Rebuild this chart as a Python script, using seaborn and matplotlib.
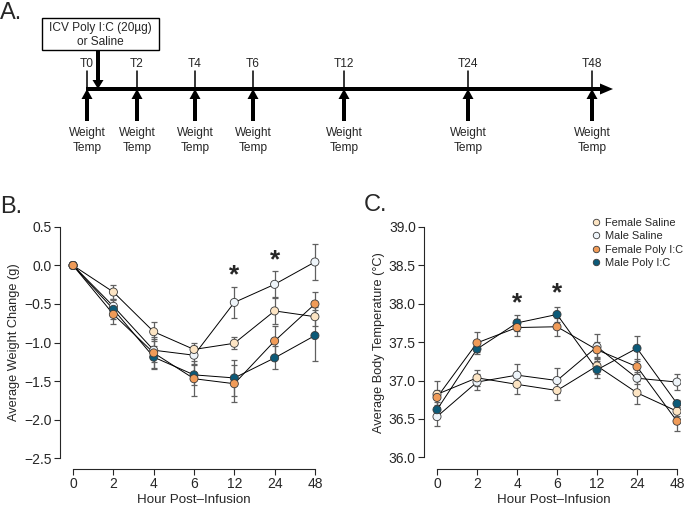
import matplotlib
matplotlib.use("Agg")
import pandas as pd
import matplotlib.pyplot as plt
import seaborn as sns
from matplotlib.patches import FancyArrow, Rectangle

# ---- data ----
hours = ["0", "2", "4", "6", "12", "24", "48"]
groups = ["Female Saline", "Male Saline", "Female Poly I:C", "Male Poly I:C"]
draw_order = ["Male Saline", "Female Saline", "Male Poly I:C", "Female Poly I:C"]
colors = ["#FCE4C3", "#EEF4F9", "#F09B58", "#0C5A78"]

weight_mean = {
    "Female Saline": [0, -0.345, -0.86, -1.09, -1.01, -0.59, -0.665],
    "Male Saline": [0, -0.53, -1.10, -1.165, -0.48, -0.245, 0.045],
    "Female Poly I:C": [0, -0.635, -1.135, -1.47, -1.535, -0.98, -0.50],
    "Male Poly I:C": [0, -0.57, -1.19, -1.42, -1.46, -1.20, -0.91],
}
weight_sem = {
    "Female Saline": [0, 0.09, 0.12, 0.09, 0.08, 0.17, 0.12],
    "Male Saline": [0, 0.10, 0.15, 0.12, 0.20, 0.17, 0.23],
    "Female Poly I:C": [0, 0.13, 0.20, 0.23, 0.24, 0.20, 0.15],
    "Male Poly I:C": [0, 0.12, 0.15, 0.13, 0.23, 0.15, 0.33],
}
temp_mean = {
    "Female Saline": [36.82, 37.035, 36.95, 36.87, 37.19, 36.84, 36.60],
    "Male Saline": [36.53, 36.98, 37.07, 37.00, 37.44, 37.03, 36.98],
    "Female Poly I:C": [36.78, 37.49, 37.69, 37.70, 37.40, 37.18, 36.47],
    "Male Poly I:C": [36.62, 37.41, 37.75, 37.86, 37.14, 37.42, 36.70],
}
temp_sem = {
    "Female Saline": [0.18, 0.10, 0.12, 0.13, 0.10, 0.15, 0.06],
    "Male Saline": [0.12, 0.10, 0.14, 0.16, 0.16, 0.08, 0.10],
    "Female Poly I:C": [0.10, 0.14, 0.11, 0.12, 0.10, 0.10, 0.13],
    "Male Poly I:C": [0.10, 0.04, 0.10, 0.10, 0.11, 0.16, 0.05],
}
weight_stars = [(4, -0.02), (5, 0.175)]
temp_stars = [(2, 38.11), (3, 38.24)]

timeline_labels = ["T0", "T2", "T4", "T6", "T12", "T24", "T48"]
timeline_x = [87, 137, 195, 253, 344, 468, 592]  # diagram layout (px)

# ---- style ----
sns.set_style("ticks")
plt.rcParams["font.family"] = ["Liberation Sans", "DejaVu Sans"]
plt.rcParams["axes.linewidth"] = 0.8
plt.rcParams["xtick.major.width"] = 0.8
plt.rcParams["ytick.major.width"] = 0.8
plt.rcParams["xtick.major.size"] = 4
plt.rcParams["ytick.major.size"] = 4

W, H = 685, 508
fig = plt.figure(figsize=(W / 100, H / 100), dpi=100)


def px_axes(left, top, right, bottom):
    return fig.add_axes([left / W, 1 - bottom / H, (right - left) / W, (bottom - top) / H])


def long_df(means, sems):
    rows = []
    for g in draw_order:
        for i, h in enumerate(hours):
            rows.append({"group": g, "pos": i, "hour": h, "value": means[g][i], "sem": sems[g][i]})
    return pd.DataFrame(rows)


def draw_panel(ax, df, ylabel, ylim, ybounds, yticks, stars, legend):
    sns.lineplot(data=df, x="pos", y="value", units="group", estimator=None,
                 color="black", linewidth=0.7, ax=ax, zorder=2)
    for g in draw_order:
        d = df[df["group"] == g]
        ax.errorbar(d["pos"], d["value"], yerr=d["sem"], fmt="none", ecolor="#606060",
                    elinewidth=0.9, capsize=2.2, capthick=0.9, zorder=1)
    sns.scatterplot(data=df, x="pos", y="value", hue="group", hue_order=groups,
                    palette=colors, s=34, edgecolor="#3a3a3a", linewidth=0.6,
                    ax=ax, zorder=4, legend=legend)
    for x, y in stars:
        ax.annotate("*", xy=(x, y), xytext=(0, -11), textcoords="offset points",
                    ha="center", va="baseline", fontsize=19, fontweight="bold")
    ax.set_ylim(*ylim)
    ax.set_yticks(yticks)
    ax.set_yticklabels([f"{t:.1f}".replace("-", "\u2212") for t in yticks], fontsize=9.5)
    ax.set_xticks(range(len(hours)))
    ax.set_xticklabels(hours, fontsize=9.5)
    ax.set_xlabel("Hour Post\u2013Infusion", fontsize=9.6, labelpad=1.5)
    ax.set_ylabel(ylabel, fontsize=9.2, labelpad=3)
    ax.tick_params(pad=2)
    ax.spines["top"].set_visible(False)
    ax.spines["right"].set_visible(False)
    ax.spines["left"].set_position(("outward", 2))
    ax.spines["bottom"].set_position(("outward", 3))
    ax.spines["left"].set_bounds(*ybounds)
    ax.spines["bottom"].set_bounds(0, len(hours) - 1)


# ---- panel A: timeline ----
ax_a = px_axes(0, 0, W, 170)
ax_a.set_xlim(0, W)
ax_a.set_ylim(170, 0)
ax_a.axis("off")
ax_a.add_patch(FancyArrow(86, 89, 527, 0, width=4, head_width=11, head_length=13,
                          length_includes_head=True, color="black", lw=0))
for x, lab in zip(timeline_x, timeline_labels):
    ax_a.plot([x, x], [71, 89], color="black", lw=1.1)
    ax_a.text(x, 64, lab, ha="center", va="center", fontsize=8.6)
    ax_a.add_patch(FancyArrow(x, 121, 0, -32, width=4, head_width=11, head_length=10,
                              length_includes_head=True, color="black", lw=0))
    ax_a.text(x, 133, "Weight", ha="center", va="center", fontsize=8.6)
    ax_a.text(x, 148, "Temp", ha="center", va="center", fontsize=8.6)
ax_a.add_patch(Rectangle((42, 18), 117, 32, facecolor="white", edgecolor="black", lw=1))
ax_a.text(100.5, 28, "ICV Poly I:C (20\u00b5g)", ha="center", va="center", fontsize=8.6)
ax_a.text(100.5, 42, "or Saline", ha="center", va="center", fontsize=8.6)
ax_a.add_patch(FancyArrow(98, 50, 0, 39, width=4, head_width=11, head_length=9,
                          length_includes_head=True, color="black", lw=0))
ax_a.text(0, 13, "A.", ha="left", va="center", fontsize=17)

# ---- panel B: weight ----
ax_b = px_axes(63, 220, 325, 465)
ax_b.set_xlim(-0.25, 6.25)
draw_panel(ax_b, long_df(weight_mean, weight_sem), "Average Weight Change (g)",
           (-2.59, 0.59), (-2.5, 0.5), [0.5, 0.0, -0.5, -1.0, -1.5, -2.0, -2.5],
           weight_stars, False)
fig.text(0 / W, 1 - 207 / H, "B.", ha="left", va="center", fontsize=17)

# ---- panel C: temperature ----
ax_c = px_axes(427, 220, 681, 465)
ax_c.set_xlim(-0.25, 6.1)
draw_panel(ax_c, long_df(temp_mean, temp_sem), "Average Body Temperature (\u00b0C)",
           (35.9, 39.09), (36.0, 39.0), [39.0, 38.5, 38.0, 37.5, 37.0, 36.5, 36.0],
           temp_stars, True)
leg = ax_c.legend(loc="upper left", bbox_to_anchor=(592 / W, 1 - 218 / H),
                  bbox_transform=fig.transFigure, frameon=False, fontsize=7.9,
                  handlelength=0.8, handletextpad=0.4, labelspacing=0.3,
                  borderpad=0, borderaxespad=0, markerscale=0.8)
fig.text(364 / W, 1 - 205 / H, "C.", ha="left", va="center", fontsize=17)

fig.savefig("out.png", dpi=100)
